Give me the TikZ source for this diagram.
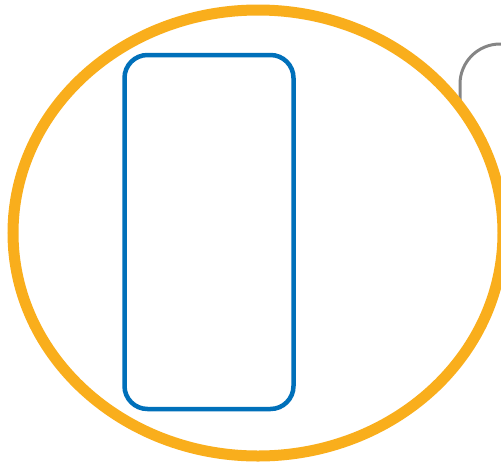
\documentclass[tikz,border=0pt]{standalone}
\usetikzlibrary{shapes.geometric}
\definecolor{ringorange}{HTML}{F9AE1C}
\definecolor{boxblue}{HTML}{0070BA}
\definecolor{greyline}{HTML}{858585}
\tikzset{
  ring/.style={ellipse, draw=ringorange, line width=11pt, fill=white, inner sep=0pt},
  bluebox/.style={rectangle, draw=boxblue, line width=4.5pt, rounded corners=23pt, inner sep=0pt},
  greybox/.style={rectangle, draw=greyline, line width=3pt, rounded corners=40pt, inner sep=0pt}
}
\begin{document}
\begin{tikzpicture}[x=1pt,y=-1pt]
\useasboundingbox (0,0) rectangle (501,464);
\clip (0,0) rectangle (501,464);
\node[greybox, minimum width=200pt, minimum height=188pt] (grey) at (560,138) {};
\node[ring, minimum width=490pt, minimum height=446pt] (ring) at (258,233) {};
\node[bluebox, minimum width=169pt, minimum height=354pt] (box) at (209,232) {};
\end{tikzpicture}
\end{document}
